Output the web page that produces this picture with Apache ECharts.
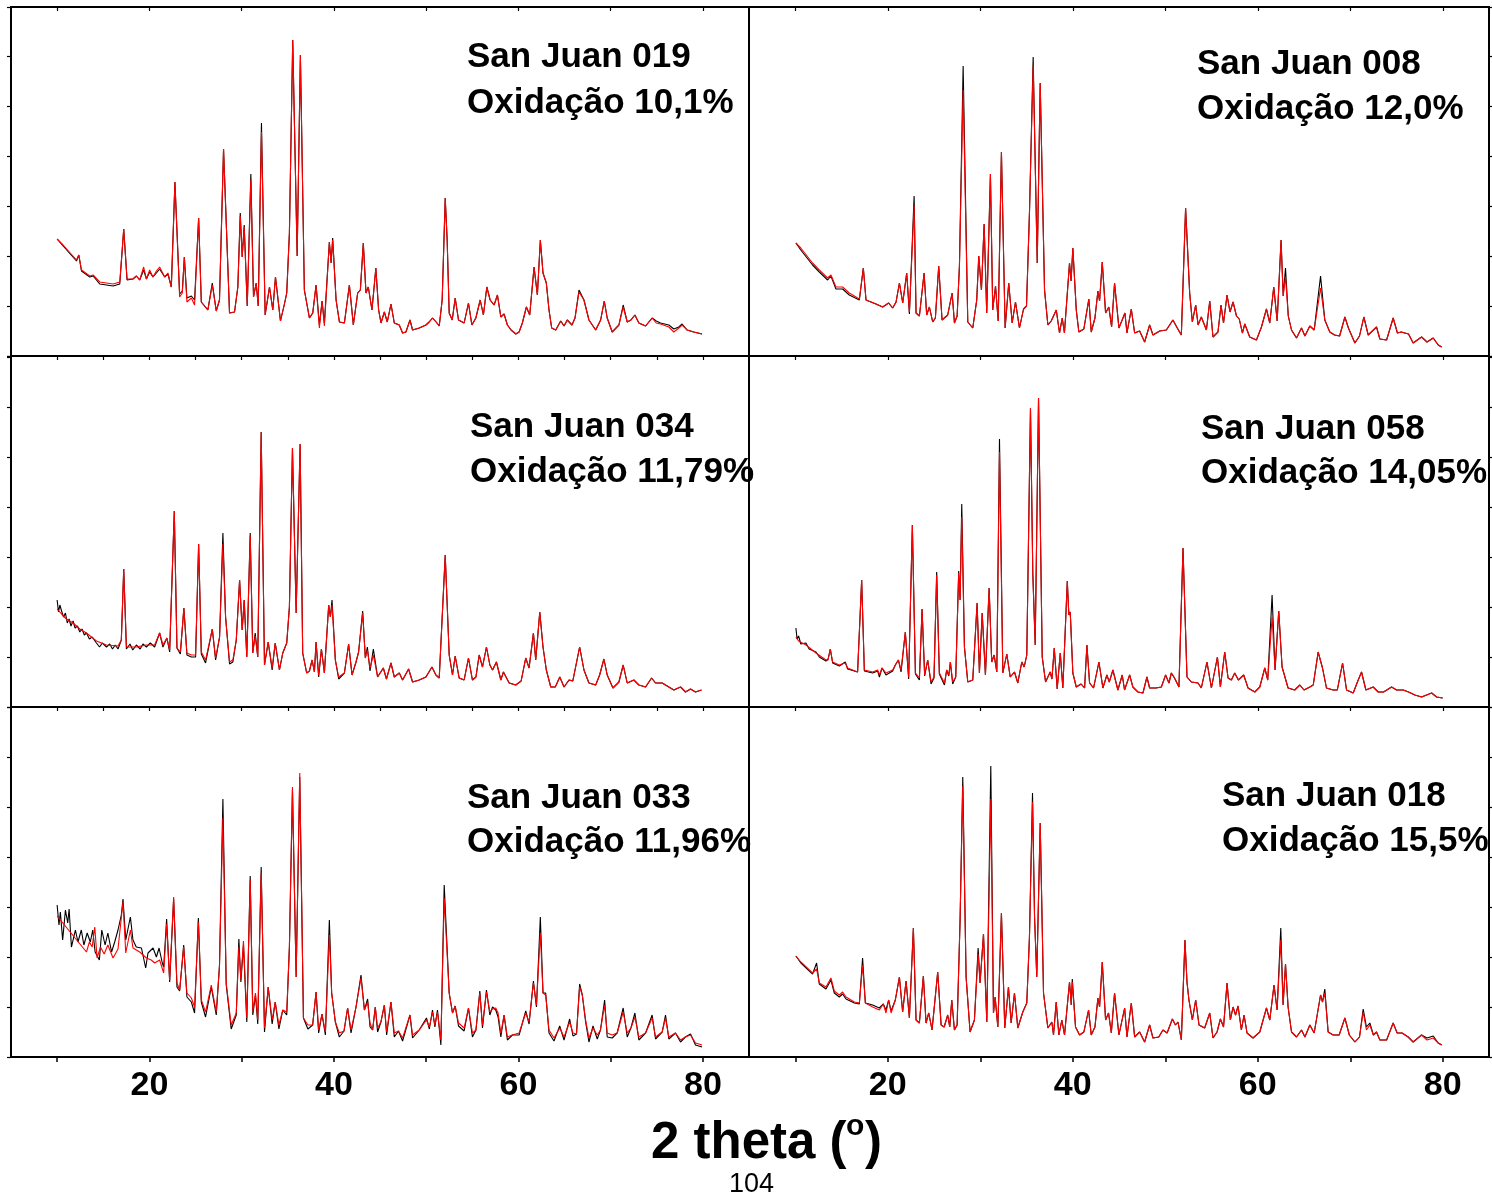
<!DOCTYPE html>
<html><head><meta charset="utf-8">
<script src="https://cdn.jsdelivr.net/npm/echarts@6/dist/echarts.min.js"></script>
<style>html,body{margin:0;padding:0;background:#fff}#c{width:1492px;height:1199px}</style>
</head><body><div id="c"></div><script>
// ---- Data: [2theta, intensity (arb. units)] ----
const xTicks = [10,20,30,40,50,60,70,80];
const xTicksFine = [10,15,20,25,30,35,40,45,50,55,60,65,70,75,80];
const xLabels = [20,40,60,80];
const panelTitles = ["San Juan 019","San Juan 008","San Juan 034","San Juan 058","San Juan 033","San Juan 018"];
const panelOxid = ["Oxidação 10,1%","Oxidação 12,0%","Oxidação 11,79%","Oxidação 14,05%","Oxidação 11,96%","Oxidação 15,5%"];

const p1_red = [[10.0,117],[10.65,111],[12.1,96],[12.35,101],[12.64,86],[13.54,80],[13.9,81],[14.62,74],[16.06,72],[16.79,74],[17.22,127],[17.58,77],[18.22,77],[18.6,80],[18.95,76],[19.38,89],[19.68,77],[20.03,86],[20.39,79],[20.76,85],[21.11,89],[21.66,79],[22.01,83],[22.38,69],[22.77,174],[23.28,59],[23.57,63],[23.79,99],[24.07,54],[24.55,58],[24.9,51],[25.34,138],[25.63,54],[26.34,46],[26.82,71],[27.25,45],[27.6,56],[28.04,207],[28.69,43],[29.23,44],[29.59,69],[29.85,140],[30.06,99],[30.28,129],[30.61,50],[31.0,176],[31.29,59],[31.58,73],[31.8,50],[32.15,224],[32.55,41],[33.02,69],[33.38,46],[33.67,79],[34.21,35],[34.64,52],[34.89,63],[35.18,123],[35.54,316],[36.02,100],[36.37,301],[36.8,66],[37.35,38],[37.71,43],[38.07,71],[38.43,28],[38.72,55],[38.97,30],[39.51,114],[39.7,93],[39.87,116],[40.24,56],[40.6,34],[41.14,33],[41.68,71],[42.11,31],[42.58,63],[42.87,66],[43.19,113],[43.48,63],[43.73,69],[44.13,46],[44.55,88],[44.85,46],[45.11,33],[45.47,44],[45.79,34],[46.19,52],[46.55,33],[47.09,31],[47.45,23],[47.81,24],[48.25,36],[48.53,26],[49.25,28],[49.98,31],[50.33,34],[50.69,38],[51.09,34],[51.42,30],[51.74,56],[52.07,158],[52.28,116],[52.5,43],[52.83,36],[53.15,58],[53.51,36],[54.12,33],[54.59,53],[54.96,31],[55.39,38],[55.86,56],[56.21,41],[56.58,69],[56.94,56],[57.37,51],[57.73,61],[58.1,39],[58.45,42],[58.81,31],[59.21,26],[59.72,22],[60.08,24],[60.43,33],[60.87,49],[61.23,41],[61.7,89],[62.06,61],[62.38,116],[62.67,83],[63.03,73],[63.32,46],[63.61,28],[64.05,26],[64.59,35],[64.95,30],[65.3,36],[65.81,31],[66.14,38],[66.57,64],[67.11,56],[67.65,36],[68.38,26],[68.92,36],[69.31,55],[69.63,38],[70.17,24],[70.9,31],[71.36,49],[71.8,34],[72.2,36],[72.63,41],[73.06,33],[73.79,30],[74.5,38],[74.94,33],[75.41,32],[76.31,29],[76.85,24],[77.39,28],[77.75,31],[78.29,26],[79.01,24],[79.91,22]];
const p1_black = [[10.0,117],[10.65,110],[12.1,95],[12.35,101],[12.64,85],[13.54,79],[13.9,80],[14.62,72],[16.06,70],[16.79,72],[17.22,127],[17.58,76],[18.22,77],[18.6,80],[18.95,76],[19.38,86],[19.68,77],[20.03,84],[20.39,79],[20.76,83],[21.11,87],[21.66,79],[22.01,82],[22.38,69],[22.77,174],[23.28,62],[23.57,65],[23.79,99],[24.07,58],[24.55,60],[24.9,56],[25.34,138],[25.63,54],[26.34,46],[26.82,73],[27.25,45],[27.6,56],[28.04,207],[28.69,43],[29.23,44],[29.59,69],[29.85,143],[30.06,99],[30.28,131],[30.61,50],[31.0,182],[31.29,59],[31.58,73],[31.8,50],[32.15,233],[32.55,41],[33.02,69],[33.38,46],[33.67,79],[34.21,35],[34.64,52],[34.89,63],[35.18,123],[35.54,316],[36.02,100],[36.37,301],[36.8,66],[37.35,38],[37.71,43],[38.07,71],[38.43,31],[38.72,55],[38.97,33],[39.51,114],[39.7,93],[39.87,118],[40.24,56],[40.6,34],[41.14,33],[41.68,71],[42.11,31],[42.58,63],[42.87,66],[43.19,113],[43.48,63],[43.73,69],[44.13,46],[44.55,88],[44.85,46],[45.11,33],[45.47,44],[45.79,34],[46.19,52],[46.55,33],[47.09,31],[47.45,23],[47.81,24],[48.25,36],[48.53,26],[49.25,28],[49.98,31],[50.33,34],[50.69,38],[51.09,34],[51.42,30],[51.74,56],[52.07,158],[52.28,116],[52.5,43],[52.83,36],[53.15,58],[53.51,36],[54.12,33],[54.59,53],[54.96,31],[55.39,38],[55.86,56],[56.21,41],[56.58,69],[56.94,56],[57.37,51],[57.73,61],[58.1,39],[58.45,42],[58.81,31],[59.21,26],[59.72,22],[60.08,24],[60.43,33],[60.87,49],[61.23,41],[61.7,89],[62.06,61],[62.38,116],[62.67,83],[63.03,73],[63.32,46],[63.61,28],[64.05,26],[64.59,35],[64.95,30],[65.3,36],[65.81,31],[66.14,38],[66.57,66],[67.11,56],[67.65,36],[68.38,26],[68.92,36],[69.31,55],[69.63,38],[70.17,24],[70.9,31],[71.36,51],[71.8,34],[72.2,36],[72.63,41],[73.06,33],[73.79,30],[74.5,38],[74.94,35],[75.41,33],[76.31,31],[76.85,27],[77.39,29],[77.75,32],[78.29,26],[79.01,24],[79.91,22]];

const p2_red = [[10.07,113],[10.6,108],[11.87,93],[12.6,86],[13.5,78],[13.86,81],[14.4,69],[15.12,69],[15.84,63],[16.93,57],[17.36,88],[17.65,56],[18.73,52],[19.45,49],[20.1,53],[20.53,48],[20.9,54],[21.26,73],[21.62,53],[22.05,83],[22.34,44],[22.85,150],[23.06,43],[23.42,40],[23.93,83],[24.21,41],[24.5,49],[24.86,34],[25.15,38],[25.51,90],[25.87,36],[26.48,41],[26.96,63],[27.21,33],[27.5,40],[27.75,90],[28.15,266],[28.65,34],[29.19,28],[29.62,56],[29.84,100],[30.13,66],[30.42,132],[30.7,43],[31.1,182],[31.35,46],[31.65,70],[31.94,35],[32.29,204],[32.69,28],[33.08,73],[33.45,33],[33.81,54],[34.24,28],[34.68,47],[35.0,50],[35.32,143],[35.72,291],[36.16,93],[36.48,273],[36.95,66],[37.31,31],[37.67,35],[38.22,46],[38.57,23],[38.86,38],[39.1,23],[39.65,93],[39.82,75],[40.01,108],[40.38,46],[40.66,24],[41.2,27],[41.74,57],[42.0,24],[42.4,38],[42.72,65],[42.9,55],[43.19,94],[43.55,43],[43.9,49],[44.2,29],[44.52,73],[44.99,28],[45.3,35],[45.64,43],[45.86,23],[46.33,47],[46.69,23],[47.23,25],[47.77,14],[48.31,31],[48.67,21],[49.4,25],[50.12,26],[50.83,36],[51.3,28],[51.74,21],[52.2,148],[52.64,63],[52.93,34],[53.29,51],[53.55,31],[53.9,39],[54.45,26],[54.81,55],[55.16,19],[55.7,24],[56.03,51],[56.3,33],[56.68,61],[57.0,44],[57.33,54],[57.7,40],[58.0,37],[58.34,23],[58.6,32],[59.13,19],[59.86,16],[60.4,29],[60.94,47],[61.3,33],[61.73,69],[62.1,35],[62.52,116],[62.75,60],[63.0,79],[63.3,40],[63.65,26],[64.19,18],[64.73,28],[65.1,20],[65.63,30],[66.1,26],[66.79,68],[67.25,36],[67.79,24],[68.3,21],[68.85,20],[69.42,39],[69.8,28],[70.5,13],[71.0,20],[71.47,39],[71.94,21],[72.84,29],[73.2,17],[73.93,16],[74.64,38],[75.1,23],[75.5,24],[76.3,22],[76.8,13],[77.71,19],[78.3,14],[78.97,18],[79.51,11],[79.88,9]];
const p2_black = [[10.07,113],[10.6,106],[11.87,91],[12.6,84],[13.5,76],[13.86,80],[14.4,67],[15.12,67],[15.84,61],[16.93,56],[17.36,88],[17.65,56],[18.73,52],[19.45,49],[20.1,53],[20.53,48],[20.9,54],[21.26,73],[21.62,53],[22.05,83],[22.34,42],[22.85,160],[23.06,43],[23.42,40],[23.93,83],[24.21,41],[24.5,49],[24.86,34],[25.15,38],[25.51,90],[25.87,36],[26.48,41],[26.96,63],[27.21,33],[27.5,40],[27.75,90],[28.15,290],[28.65,34],[29.19,28],[29.62,56],[29.84,100],[30.13,66],[30.42,132],[30.7,43],[31.1,182],[31.35,46],[31.65,70],[31.94,35],[32.29,204],[32.69,28],[33.08,73],[33.45,33],[33.81,54],[34.24,28],[34.68,47],[35.0,50],[35.32,143],[35.72,299],[36.16,93],[36.48,273],[36.95,66],[37.31,31],[37.67,35],[38.22,46],[38.57,23],[38.86,38],[39.1,23],[39.65,93],[39.82,75],[40.01,108],[40.38,46],[40.66,24],[41.2,27],[41.74,57],[42.0,24],[42.4,38],[42.72,65],[42.9,55],[43.19,94],[43.55,43],[43.9,49],[44.2,29],[44.52,73],[44.99,28],[45.3,35],[45.64,43],[45.86,23],[46.33,47],[46.69,23],[47.23,25],[47.77,14],[48.31,31],[48.67,21],[49.4,25],[50.12,26],[50.83,36],[51.3,28],[51.74,21],[52.2,148],[52.64,63],[52.93,34],[53.29,51],[53.55,31],[53.9,39],[54.45,26],[54.81,55],[55.16,19],[55.7,24],[56.03,51],[56.3,33],[56.68,61],[57.0,44],[57.33,54],[57.7,40],[58.0,37],[58.34,23],[58.6,32],[59.13,19],[59.86,16],[60.4,29],[60.94,47],[61.3,33],[61.73,69],[62.1,35],[62.52,116],[62.75,60],[63.0,88],[63.3,40],[63.65,26],[64.19,18],[64.73,28],[65.1,20],[65.63,30],[66.1,26],[66.79,80],[67.25,36],[67.79,24],[68.3,21],[68.85,20],[69.42,39],[69.8,28],[70.5,13],[71.0,20],[71.47,39],[71.94,21],[72.84,29],[73.2,17],[73.93,16],[74.64,38],[75.1,23],[75.5,24],[76.3,22],[76.8,13],[77.71,19],[78.3,14],[78.97,18],[79.51,11],[79.88,9]];

const p3_red = [[10.0,98],[10.48,93],[11.0,88],[11.73,84],[12.46,78],[13.18,74],[14.26,66],[15.35,62],[16.6,61],[16.96,67],[17.22,138],[17.51,60],[18.59,60],[19.68,62],[20.57,62],[21.11,74],[21.47,62],[21.9,69],[22.2,57],[22.7,196],[22.99,59],[23.36,55],[23.74,99],[24.07,54],[24.55,52],[25.01,52],[25.34,163],[25.63,55],[26.09,47],[26.82,78],[27.18,49],[27.61,70],[27.97,163],[28.26,90],[28.69,45],[29.05,47],[29.42,67],[29.78,127],[30.06,77],[30.28,107],[30.56,50],[30.93,171],[31.21,54],[31.47,71],[31.75,50],[32.12,275],[32.48,42],[32.88,65],[33.31,39],[33.64,64],[34.1,37],[34.46,54],[34.89,64],[35.18,100],[35.51,259],[35.91,94],[36.34,263],[36.62,54],[37.05,34],[37.35,36],[37.64,47],[37.89,35],[38.07,65],[38.35,32],[38.65,58],[38.97,34],[39.44,102],[39.62,90],[39.8,102],[40.16,47],[40.52,30],[41.14,34],[41.6,63],[41.97,32],[42.4,45],[42.68,55],[43.12,94],[43.41,49],[43.63,57],[43.92,39],[44.28,52],[44.74,30],[45.36,39],[45.7,28],[46.19,44],[46.55,30],[47.09,34],[47.45,27],[48.1,38],[48.53,25],[49.25,27],[49.98,30],[50.63,40],[51.06,32],[51.42,29],[52.07,152],[52.5,52],[52.86,32],[53.15,51],[53.58,29],[54.12,27],[54.59,49],[55.02,27],[55.4,30],[55.75,52],[56.11,40],[56.54,60],[56.91,42],[57.2,37],[57.62,45],[58.1,27],[58.38,35],[59.0,24],[59.72,22],[60.3,26],[60.8,49],[61.16,39],[61.63,74],[61.88,47],[62.32,95],[62.67,60],[63.03,37],[63.51,20],[64.0,20],[64.49,30],[64.95,20],[65.49,27],[65.9,26],[66.64,60],[67.11,37],[67.65,24],[68.38,22],[68.81,32],[69.27,48],[69.63,32],[70.25,19],[70.9,25],[71.36,42],[71.8,24],[72.52,27],[73.06,22],[73.79,20],[74.44,29],[74.87,24],[75.59,24],[76.31,20],[76.85,17],[77.58,20],[78.12,15],[78.66,18],[79.2,15],[79.85,17]];
const p3_black = [[10.0,107],[10.15,95],[10.3,102],[10.48,96],[10.7,90],[10.9,94],[11.1,84],[11.3,88],[11.5,81],[11.73,86],[11.95,79],[12.2,81],[12.46,75],[12.7,78],[12.95,72],[13.18,74],[13.5,68],[13.8,70],[14.26,64],[14.6,60],[14.9,64],[15.35,60],[15.7,63],[16.0,58],[16.3,62],[16.6,58],[16.96,67],[17.22,138],[17.51,58],[17.9,63],[18.2,57],[18.59,62],[19.0,58],[19.3,63],[19.68,60],[20.1,64],[20.57,60],[21.11,74],[21.47,60],[21.9,69],[22.2,55],[22.7,196],[22.99,59],[23.36,53],[23.74,99],[24.07,52],[24.55,50],[25.01,50],[25.34,163],[25.63,53],[26.09,44],[26.82,78],[27.18,47],[27.61,70],[27.97,174],[28.26,90],[28.69,43],[29.05,45],[29.42,67],[29.78,127],[30.06,77],[30.28,107],[30.56,50],[30.93,174],[31.21,54],[31.47,74],[31.75,50],[32.12,275],[32.48,42],[32.88,65],[33.31,37],[33.64,64],[34.1,37],[34.46,54],[34.89,64],[35.18,100],[35.51,259],[35.91,94],[36.34,263],[36.62,54],[37.05,34],[37.35,36],[37.64,47],[37.89,35],[38.07,65],[38.35,30],[38.65,58],[38.97,34],[39.44,102],[39.62,90],[39.8,107],[40.16,47],[40.52,28],[41.14,34],[41.6,63],[41.97,32],[42.4,45],[42.68,55],[43.12,96],[43.41,49],[43.63,60],[43.92,36],[44.28,58],[44.74,30],[45.36,39],[45.7,28],[46.19,44],[46.55,30],[47.09,34],[47.45,27],[48.1,38],[48.53,25],[49.25,27],[49.98,30],[50.63,40],[51.06,32],[51.42,29],[52.07,152],[52.5,52],[52.86,32],[53.15,51],[53.58,29],[54.12,27],[54.59,49],[55.02,27],[55.4,30],[55.75,52],[56.11,40],[56.54,60],[56.91,42],[57.2,37],[57.62,45],[58.1,27],[58.38,35],[59.0,24],[59.72,22],[60.3,26],[60.8,49],[61.16,39],[61.63,74],[61.88,47],[62.32,95],[62.67,60],[63.03,37],[63.51,20],[64.0,20],[64.49,30],[64.95,20],[65.49,27],[65.9,26],[66.64,60],[67.11,37],[67.65,24],[68.38,22],[68.81,32],[69.27,48],[69.63,32],[70.25,19],[70.9,25],[71.36,42],[71.8,24],[72.52,27],[73.06,22],[73.79,20],[74.44,29],[74.87,24],[75.59,24],[76.31,20],[76.85,17],[77.58,20],[78.12,15],[78.66,18],[79.2,15],[79.85,17]];

const p4_red = [[10.07,70],[10.36,66],[11.16,62],[12.24,54],[13.32,47],[13.55,47],[13.79,58],[14.04,45],[14.76,42],[15.41,44],[15.66,39],[16.74,35],[17.18,127],[17.47,37],[18.37,35],[18.91,37],[19.1,32],[19.38,39],[19.81,34],[20.53,37],[20.82,42],[21.15,47],[21.44,37],[21.9,75],[22.26,30],[22.66,182],[22.99,34],[23.42,29],[23.71,98],[23.99,32],[24.32,47],[24.68,25],[25.0,30],[25.29,132],[25.58,34],[26.13,24],[26.37,37],[26.6,32],[26.77,45],[27.02,25],[27.35,30],[27.67,134],[27.82,107],[28.0,190],[28.29,60],[28.65,25],[29.19,27],[29.66,104],[29.91,34],[30.21,94],[30.56,32],[30.96,119],[31.24,45],[31.5,52],[31.79,35],[32.08,255],[32.44,34],[32.87,53],[33.24,30],[33.7,35],[34.06,24],[34.49,45],[34.75,40],[35.03,52],[35.43,299],[35.68,134],[35.94,62],[36.3,309],[36.7,50],[37.06,25],[37.56,35],[37.75,28],[38.0,59],[38.32,18],[38.65,54],[38.93,19],[39.41,126],[39.58,92],[39.73,95],[40.01,34],[40.38,20],[40.9,23],[41.28,19],[41.53,62],[41.82,24],[42.25,19],[42.83,45],[43.26,19],[43.69,32],[43.95,25],[44.34,37],[44.88,17],[45.35,32],[45.6,17],[46.15,32],[46.5,20],[47.05,15],[47.59,14],[48.02,30],[48.31,19],[49.0,19],[49.58,20],[50.04,32],[50.4,24],[50.66,34],[51.0,29],[51.48,20],[51.92,159],[52.35,30],[52.82,25],[53.54,24],[53.9,19],[54.51,45],[54.99,19],[55.64,50],[55.96,20],[56.43,55],[56.79,29],[57.15,27],[57.51,34],[57.9,27],[58.48,32],[58.95,19],[59.68,15],[60.22,20],[60.76,39],[61.08,27],[61.55,90],[61.87,37],[62.27,96],[62.63,40],[63.28,19],[64.0,17],[64.55,22],[65.0,17],[65.63,20],[66.0,22],[66.53,55],[67.0,39],[67.43,19],[68.15,17],[68.6,17],[69.17,44],[69.6,17],[70.32,14],[70.86,27],[71.22,35],[71.69,17],[72.48,20],[73.02,15],[73.6,15],[74.47,20],[75.01,17],[75.73,17],[76.3,15],[76.99,12],[77.71,10],[78.8,14],[79.34,10],[79.99,9]];
const p4_black = [[10.07,79],[10.2,68],[10.36,71],[10.6,63],[11.16,64],[11.5,58],[12.24,55],[12.6,50],[13.32,46],[13.55,48],[13.79,58],[14.04,44],[14.76,41],[15.41,45],[15.66,38],[16.74,35],[17.18,127],[17.47,36],[18.37,34],[18.91,36],[19.1,30],[19.38,39],[19.81,32],[20.53,36],[20.82,42],[21.15,47],[21.44,35],[21.9,75],[22.26,28],[22.66,182],[22.99,33],[23.42,27],[23.71,98],[23.99,31],[24.32,47],[24.68,23],[25.0,29],[25.29,135],[25.58,33],[26.13,22],[26.37,37],[26.6,31],[26.77,45],[27.02,23],[27.35,30],[27.67,136],[27.82,107],[28.0,203],[28.29,60],[28.65,25],[29.19,27],[29.66,104],[29.91,34],[30.21,94],[30.56,32],[30.96,119],[31.24,45],[31.5,52],[31.79,35],[32.08,268],[32.44,34],[32.87,53],[33.24,30],[33.7,35],[34.06,24],[34.49,45],[34.75,40],[35.03,52],[35.43,299],[35.68,134],[35.94,62],[36.3,309],[36.7,50],[37.06,25],[37.56,35],[37.75,28],[38.0,59],[38.32,18],[38.65,54],[38.93,19],[39.41,126],[39.58,92],[39.73,95],[40.01,34],[40.38,20],[40.9,23],[41.28,19],[41.53,62],[41.82,24],[42.25,19],[42.83,45],[43.26,19],[43.69,32],[43.95,25],[44.34,37],[44.88,17],[45.35,32],[45.6,17],[46.15,32],[46.5,20],[47.05,15],[47.59,14],[48.02,30],[48.31,19],[49.0,19],[49.58,20],[50.04,32],[50.4,24],[50.66,34],[51.0,29],[51.48,20],[51.92,159],[52.35,30],[52.82,25],[53.54,24],[53.9,19],[54.51,45],[54.99,19],[55.64,50],[55.96,20],[56.43,55],[56.79,29],[57.15,27],[57.51,34],[57.9,27],[58.48,32],[58.95,19],[59.68,15],[60.22,20],[60.76,39],[61.08,27],[61.55,112],[61.87,37],[62.27,96],[62.63,40],[63.28,19],[64.0,17],[64.55,22],[65.0,17],[65.63,20],[66.0,22],[66.53,55],[67.0,39],[67.43,19],[68.15,17],[68.6,17],[69.17,44],[69.6,17],[70.32,14],[70.86,27],[71.22,35],[71.69,17],[72.48,20],[73.02,15],[73.6,15],[74.47,20],[75.01,17],[75.73,17],[76.3,15],[76.99,12],[77.71,10],[78.8,14],[79.34,10],[79.99,9]];

const p5_red = [[10.0,141],[13.18,105],[13.5,115],[13.8,110],[14.08,130],[14.33,99],[14.7,110],[15.1,103],[15.5,112],[16.06,99],[16.6,108],[17.14,155],[17.44,104],[17.94,127],[18.22,109],[18.95,105],[19.68,99],[20.2,97],[20.57,94],[21.11,97],[21.55,84],[21.87,133],[22.2,77],[22.63,160],[22.99,74],[23.28,67],[23.72,110],[24.07,64],[24.55,59],[24.9,50],[25.31,135],[25.63,57],[26.09,45],[26.71,72],[27.25,45],[27.6,90],[27.97,239],[28.33,74],[28.87,32],[29.42,44],[29.7,110],[29.92,77],[30.2,116],[30.56,39],[30.93,177],[31.21,45],[31.5,64],[31.75,37],[32.12,184],[32.48,29],[32.88,70],[33.31,37],[33.64,55],[34.04,32],[34.46,47],[34.89,45],[35.18,110],[35.51,270],[35.91,80],[36.3,284],[36.7,39],[37.18,32],[37.7,32],[38.07,65],[38.35,27],[38.71,43],[39.08,25],[39.51,122],[39.76,64],[40.16,35],[40.59,24],[41.1,26],[41.49,49],[41.86,27],[42.4,50],[42.94,79],[43.31,47],[43.66,55],[43.92,34],[44.2,27],[44.49,50],[44.74,29],[45.1,35],[45.47,52],[45.72,25],[46.19,55],[46.55,24],[47.0,26],[47.45,19],[48.25,42],[48.53,22],[49.25,27],[50.04,37],[50.35,30],[50.69,45],[50.95,32],[51.23,45],[51.6,17],[51.96,159],[52.5,64],[52.86,44],[53.15,51],[53.51,34],[54.12,29],[54.59,49],[55.02,24],[55.4,27],[55.82,64],[56.11,32],[56.54,65],[56.91,45],[57.2,48],[57.55,49],[57.8,44],[58.1,24],[58.45,42],[58.81,20],[59.35,22],[60.08,24],[60.8,44],[61.16,35],[61.63,74],[61.96,52],[62.38,124],[62.67,64],[62.96,62],[63.32,27],[63.86,19],[64.48,29],[64.95,20],[65.56,35],[65.92,24],[66.3,23],[66.64,70],[66.93,62],[67.29,37],[67.65,19],[68.09,29],[68.55,22],[68.9,27],[69.35,52],[69.63,24],[70.17,22],[70.71,24],[71.36,45],[71.8,24],[72.2,29],[72.63,40],[73.06,20],[73.79,24],[74.5,39],[74.87,20],[75.59,25],[75.95,39],[76.31,20],[77.03,24],[77.58,17],[78.1,20],[78.66,22],[79.2,14],[79.91,12]];
const p5_black = [[10.0,152],[10.2,132],[10.35,145],[10.6,117],[10.9,147],[11.15,134],[11.3,148],[11.55,110],[11.98,127],[12.26,115],[12.62,127],[12.9,112],[13.26,124],[13.6,115],[13.86,127],[14.12,105],[14.58,97],[14.84,127],[15.2,112],[15.5,124],[15.9,105],[16.24,115],[16.6,127],[16.96,142],[17.14,158],[17.44,117],[17.94,140],[18.22,117],[18.58,110],[19.14,109],[19.6,89],[19.85,104],[20.4,109],[20.76,100],[21.05,109],[21.4,94],[21.55,90],[21.87,138],[22.2,75],[22.63,158],[22.99,70],[23.28,66],[23.72,112],[24.07,60],[24.55,55],[24.9,44],[25.31,139],[25.63,55],[26.09,40],[26.71,70],[27.25,42],[27.6,92],[27.97,258],[28.33,72],[28.87,28],[29.42,42],[29.7,118],[29.92,75],[30.2,112],[30.56,35],[30.93,181],[31.21,42],[31.5,62],[31.75,33],[32.12,190],[32.48,25],[32.88,70],[33.31,33],[33.64,55],[34.04,28],[34.46,47],[34.89,42],[35.18,110],[35.51,267],[35.91,80],[36.3,280],[36.7,39],[37.18,28],[37.7,32],[38.07,65],[38.35,24],[38.71,43],[39.08,22],[39.51,137],[39.76,64],[40.16,35],[40.59,20],[41.1,26],[41.49,49],[41.86,24],[42.4,50],[42.94,82],[43.31,47],[43.66,58],[43.92,30],[44.2,27],[44.49,50],[44.74,25],[45.1,35],[45.47,52],[45.72,22],[46.19,55],[46.55,20],[47.0,26],[47.45,16],[48.25,42],[48.53,19],[49.25,27],[50.04,39],[50.35,28],[50.69,47],[50.95,30],[51.23,47],[51.6,12],[51.96,172],[52.5,64],[52.86,44],[53.15,51],[53.51,31],[54.12,26],[54.59,49],[55.02,20],[55.4,27],[55.82,66],[56.11,29],[56.54,67],[56.91,42],[57.2,50],[57.55,47],[57.8,40],[58.1,20],[58.45,42],[58.81,17],[59.35,22],[60.08,22],[60.8,46],[61.16,33],[61.63,76],[61.96,50],[62.38,140],[62.67,64],[62.96,64],[63.32,24],[63.86,16],[64.48,31],[64.95,17],[65.56,38],[65.92,21],[66.3,23],[66.64,73],[66.93,62],[67.29,35],[67.65,15],[68.09,31],[68.55,18],[68.9,27],[69.35,57],[69.63,20],[70.17,19],[70.71,24],[71.36,49],[71.8,20],[72.2,29],[72.63,44],[73.06,17],[73.79,24],[74.5,42],[74.87,18],[75.59,25],[75.95,42],[76.31,18],[77.03,24],[77.58,15],[78.1,20],[78.66,23],[79.2,12],[79.91,10]];

const p6_red = [[10.07,101],[10.61,95],[11.87,84],[12.31,88],[12.6,74],[13.32,70],[13.86,79],[14.22,66],[14.76,62],[15.12,65],[15.49,60],[16.39,55],[16.93,54],[17.28,92],[17.58,54],[18.37,50],[19.09,47],[19.52,53],[19.81,44],[20.1,57],[20.36,44],[20.82,57],[21.26,80],[21.61,45],[21.98,76],[22.34,39],[22.77,129],[23.06,37],[23.42,34],[23.85,81],[24.14,34],[24.43,44],[24.79,27],[25.4,85],[25.77,32],[26.1,30],[26.48,42],[26.7,30],[26.92,57],[27.21,27],[27.5,32],[27.82,137],[28.11,271],[28.47,80],[28.9,25],[29.37,37],[29.77,103],[29.98,74],[30.35,123],[30.71,35],[31.14,258],[31.43,44],[31.61,60],[31.9,30],[32.29,144],[32.65,29],[33.05,70],[33.34,34],[33.7,64],[34.06,29],[34.6,45],[35.03,54],[35.32,120],[35.65,255],[35.87,140],[36.11,80],[36.48,234],[36.84,64],[37.31,29],[37.74,35],[37.92,22],[38.21,55],[38.5,22],[38.82,37],[39.11,22],[39.65,75],[39.84,52],[39.95,75],[40.3,30],[40.74,22],[41.2,25],[41.71,47],[42.0,22],[42.4,30],[42.72,59],[42.9,50],[43.19,95],[43.55,37],[43.87,44],[44.17,24],[44.52,64],[44.99,22],[45.61,49],[45.86,20],[46.33,54],[46.69,20],[47.23,25],[47.77,15],[48.31,32],[48.67,19],[49.3,20],[49.75,27],[50.2,24],[50.77,38],[51.1,32],[51.38,35],[51.74,17],[52.13,117],[52.35,75],[52.56,57],[52.93,37],[53.29,57],[53.65,32],[54.26,29],[54.81,44],[55.16,19],[55.6,25],[55.96,38],[56.3,30],[56.68,74],[57.04,37],[57.33,50],[57.6,42],[57.87,51],[58.23,27],[58.52,42],[58.84,24],[59.49,19],[60.22,25],[60.94,49],[61.3,37],[61.76,72],[62.09,47],[62.49,117],[62.74,52],[63.0,93],[63.28,50],[63.65,25],[64.19,20],[64.73,27],[65.1,20],[65.63,32],[66.1,24],[66.79,62],[67.0,55],[67.25,64],[67.61,25],[68.15,22],[68.8,22],[69.42,39],[69.9,22],[70.5,15],[71.0,20],[71.4,45],[71.75,27],[72.12,32],[72.5,22],[72.84,25],[73.2,17],[73.93,17],[74.64,34],[75.07,24],[75.6,24],[76.26,20],[76.8,15],[77.71,22],[78.3,17],[78.97,19],[79.51,14],[79.88,12]];
const p6_black = [[10.07,101],[10.61,94],[11.87,83],[12.31,94],[12.6,73],[13.32,68],[13.86,77],[14.22,64],[14.76,60],[15.12,63],[15.49,58],[16.39,54],[16.93,53],[17.28,99],[17.58,54],[18.37,52],[19.09,49],[19.52,53],[19.81,47],[20.1,57],[20.36,46],[20.82,57],[21.26,80],[21.61,45],[21.98,76],[22.34,39],[22.77,129],[23.06,37],[23.42,34],[23.85,81],[24.14,34],[24.43,44],[24.79,27],[25.4,85],[25.77,32],[26.1,30],[26.48,42],[26.7,30],[26.92,57],[27.21,27],[27.5,32],[27.82,137],[28.11,280],[28.47,80],[28.9,25],[29.37,37],[29.77,109],[29.98,74],[30.35,123],[30.71,35],[31.14,291],[31.43,44],[31.61,60],[31.9,30],[32.29,144],[32.65,29],[33.05,70],[33.34,34],[33.7,64],[34.06,29],[34.6,45],[35.03,54],[35.32,120],[35.65,264],[35.87,140],[36.11,80],[36.48,234],[36.84,64],[37.31,29],[37.74,35],[37.92,22],[38.21,55],[38.5,22],[38.82,37],[39.11,22],[39.65,75],[39.84,52],[39.95,78],[40.3,30],[40.74,22],[41.2,25],[41.71,47],[42.0,22],[42.4,30],[42.72,59],[42.9,50],[43.19,95],[43.55,37],[43.87,44],[44.17,24],[44.52,64],[44.99,22],[45.61,49],[45.86,20],[46.33,54],[46.69,20],[47.23,25],[47.77,15],[48.31,32],[48.67,19],[49.3,20],[49.75,27],[50.2,24],[50.77,38],[51.1,32],[51.38,35],[51.74,17],[52.13,117],[52.35,75],[52.56,57],[52.93,37],[53.29,57],[53.65,32],[54.26,29],[54.81,44],[55.16,19],[55.6,25],[55.96,38],[56.3,30],[56.68,74],[57.04,37],[57.33,50],[57.6,42],[57.87,51],[58.23,27],[58.52,42],[58.84,24],[59.49,19],[60.22,25],[60.94,49],[61.3,37],[61.76,72],[62.09,47],[62.49,129],[62.74,52],[63.0,93],[63.28,50],[63.65,25],[64.19,20],[64.73,27],[65.1,20],[65.63,32],[66.1,24],[66.79,62],[67.0,55],[67.25,68],[67.61,25],[68.15,22],[68.8,22],[69.42,39],[69.9,22],[70.5,15],[71.0,20],[71.4,48],[71.75,30],[72.12,34],[72.5,22],[72.84,25],[73.2,17],[73.93,17],[74.64,34],[75.07,24],[75.6,24],[76.26,20],[76.8,15],[77.71,22],[78.3,19],[78.97,21],[79.51,14],[79.88,12]];

const blackSets = [p1_black,p2_black,p3_black,p4_black,p5_black,p6_black];
const redSets = [p1_red,p2_red,p3_red,p4_red,p5_red,p6_red];

// ---- Layout ----
const FONT = "'Liberation Sans', Arial, Helvetica, sans-serif";
const grids = [
  {left:11, top:7, width:738, height:349},
  {left:749, top:7, width:740, height:349},
  {left:11, top:356, width:738, height:351},
  {left:749, top:356, width:740, height:351},
  {left:11, top:707, width:738, height:350},
  {left:749, top:707, width:740, height:350}
];
const titlePos = [
  {x:467, y1:54, y2:101},
  {x:1197, y1:61, y2:107},
  {x:470, y1:424, y2:470},
  {x:1201, y1:426, y2:471},
  {x:467, y1:795, y2:840},
  {x:1222, y1:793, y2:839}
];

const chart = echarts.init(document.getElementById('c'), null, {renderer:'canvas'});
const xAxis = [], yAxis = [], series = [], graphic = [];
grids.forEach((g, i) => {
  g.show = true; g.borderColor = '#000'; g.borderWidth = 2; g.backgroundColor = 'transparent';
  const bottomRow = i >= 4;
  xAxis.push({
    gridIndex:i, type:'value', min:5, max:85, position:'bottom',
    axisLine:{show:false},
    axisTick:{show:bottomRow, inside:false, length:5, customValues:xTicks, lineStyle:{color:'#000', width:1.5}},
    axisLabel:{show:bottomRow, customValues:xLabels, margin:12, color:'#000', fontFamily:FONT, fontWeight:'bold', fontSize:34},
    splitLine:{show:false}
  });
  xAxis.push({
    gridIndex:i, type:'value', min:5, max:85, position:'top',
    axisLine:{show:false},
    axisTick:{show:true, inside:true, length:4, customValues:(i===2||i===4)?xTicksFine:xTicks, lineStyle:{color:'#000', width:1.2}},
    axisLabel:{show:false}, splitLine:{show:false}
  });
  yAxis.push({
    gridIndex:i, type:'value', min:0, max:g.height, interval:50,
    position:(i%2===0)?'left':'right',
    axisLine:{show:false},
    axisTick:{show:true, inside:false, length:4, lineStyle:{color:'#000', width:1.2}},
    axisLabel:{show:false}, splitLine:{show:false}
  });
  series.push({type:'line', xAxisIndex:2*i, yAxisIndex:i, data:blackSets[i], showSymbol:false, symbol:'none',
    lineStyle:{color:'#000', width:1.1}, z:2, animation:false, silent:true});
  series.push({type:'line', xAxisIndex:2*i, yAxisIndex:i, data:redSets[i], showSymbol:false, symbol:'none',
    lineStyle:{color:'#ff0000', width:1.1}, z:3, animation:false, silent:true});
  const t = titlePos[i];
  graphic.push({type:'text', left:t.x, top:t.y1 - 14, z:100,
    style:{text:panelTitles[i], font:"bold 35px " + FONT, fill:'#000'}});
  graphic.push({type:'text', left:t.x, top:t.y2 - 15, z:100,
    style:{text:panelOxid[i], font:"bold 35px " + FONT, fill:'#000'}});
});
graphic.push({type:'text', left:651, top:1118, z:100, style:{text:'2 theta (', font:"bold 51px " + FONT, fill:'#000'}});
graphic.push({type:'text', left:846, top:1112, z:100, style:{text:'o', font:"bold 30px " + FONT, fill:'#000'}});
graphic.push({type:'text', left:865, top:1118, z:100, style:{text:')', font:"bold 51px " + FONT, fill:'#000'}});
graphic.push({type:'text', left:729, top:1171, z:100, style:{text:'104', font:"27px " + FONT, fill:'#000'}});

chart.setOption({
  animation:false,
  backgroundColor:'#fff',
  grid:grids, xAxis:xAxis, yAxis:yAxis, series:series, graphic:graphic
});
</script></body></html>
